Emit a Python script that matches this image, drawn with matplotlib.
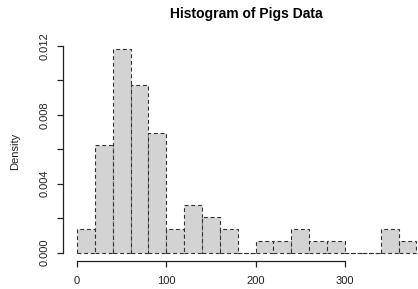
import numpy as np
import matplotlib
matplotlib.use("Agg")
import matplotlib.pyplot as plt

plt.rcParams['font.family'] = ['Liberation Sans', 'DejaVu Sans']

# bin edges (width 20) and densities
bin_edges = list(range(0, 400, 20))
density = [0.00136, 0.00624, 0.01179, 0.00972, 0.00692, 0.00136, 0.00275,
           0.00207, 0.00136, 0.0, 0.00068, 0.00068, 0.00136, 0.00068,
           0.00068, 0.0, 0.0, 0.00136, 0.00068]
x_ticks = [0, 100, 200, 300]
y_ticks = [0.0, 0.002, 0.004, 0.006, 0.008, 0.010, 0.012]
y_labels = ['0.000', '', '0.004', '', '0.008', '', '0.012']

W, H = 418, 289
fig = plt.figure(figsize=(W / 100, H / 100), dpi=100)
# plot region (R style), right part falls outside the image
ax = fig.add_axes([63.4 / W, 1 - 260.8 / H, 366.6 / W, 219.6 / H])

ax.bar(bin_edges[:-1], density, width=20, align='edge',
       color='#d3d3d3', edgecolor='#333333', linewidth=0.8,
       linestyle=(0, (3.5, 2.5)))

ymax = max(density)
ax.set_xlim(-0.04 * 380, 380 * 1.04)
ax.set_ylim(-0.04 * ymax, ymax * 1.04)

for s in ['top', 'right']:
    ax.spines[s].set_visible(False)
ax.spines['left'].set_bounds(0, 0.012)
ax.spines['bottom'].set_bounds(0, 300)
for s in ['left', 'bottom']:
    ax.spines[s].set_linewidth(0.9)
    ax.spines[s].set_color('#222222')

ax.set_xticks(x_ticks)
ax.set_xticklabels([str(t) for t in x_ticks])
ax.set_yticks(y_ticks)
ax.set_yticklabels(y_labels, rotation=90, va='center')
ax.tick_params(axis='both', length=4, width=0.9, color='#222222',
               labelsize=8, labelcolor='#222222')
ax.tick_params(axis='x', pad=7)
ax.tick_params(axis='y', pad=6)

fig.text(15 / W, 1 - 151 / H, 'Density', rotation=90, ha='center',
         va='center', fontsize=8, color='#222222')
fig.text(246.5 / W, 1 - 14 / H, 'Histogram of Pigs Data', ha='center',
         va='center', fontsize=10, fontweight='bold')

fig.savefig('out.png', dpi=100)
